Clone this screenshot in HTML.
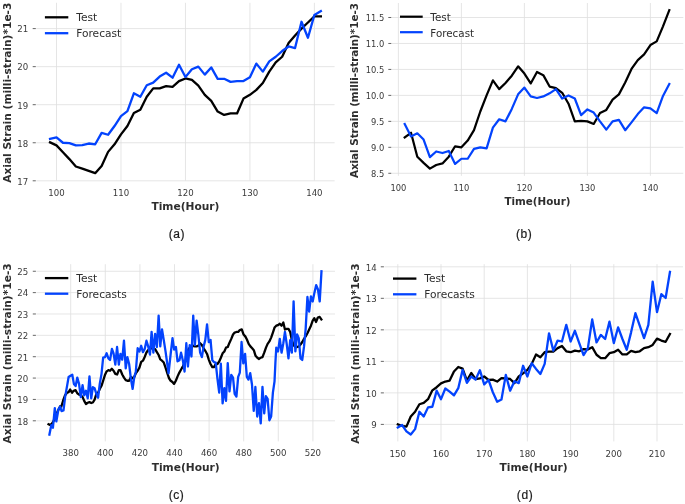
<!DOCTYPE html>
<html lang="en">
<head>
<meta charset="utf-8">
<title>Test vs Forecast axial strain</title>
<style>
html,body{margin:0;padding:0;background:#fff;}
body{width:685px;height:504px;overflow:hidden;}
svg{display:block;}
.tk{font-family:"DejaVu Sans","Liberation Sans",sans-serif;font-size:8.6px;fill:#3a3a3a;}
.lg{font-family:"DejaVu Sans","Liberation Sans",sans-serif;font-size:10.65px;fill:#2e2e2e;}
.lb{font-family:"DejaVu Sans","Liberation Sans",sans-serif;font-size:10.65px;font-weight:bold;fill:#2e2e2e;}
.cp{font-family:"Liberation Sans",sans-serif;font-size:12px;letter-spacing:0.6px;fill:#1a1a1a;stroke:#1a1a1a;stroke-width:0.2px;}
</style>
</head>
<body>
<svg width="685" height="504" viewBox="0 0 685 504">
<rect width="685" height="504" fill="#ffffff"/>
<line x1="56.50" y1="2.8" x2="56.50" y2="180.6" stroke="#dedede" stroke-width="0.8"/>
<line x1="120.97" y1="2.8" x2="120.97" y2="180.6" stroke="#dedede" stroke-width="0.8"/>
<line x1="185.45" y1="2.8" x2="185.45" y2="180.6" stroke="#dedede" stroke-width="0.8"/>
<line x1="249.92" y1="2.8" x2="249.92" y2="180.6" stroke="#dedede" stroke-width="0.8"/>
<line x1="314.40" y1="2.8" x2="314.40" y2="180.6" stroke="#dedede" stroke-width="0.8"/>
<line x1="36.3" y1="180.80" x2="334.6" y2="180.80" stroke="#dedede" stroke-width="0.8"/>
<line x1="36.3" y1="142.75" x2="334.6" y2="142.75" stroke="#dedede" stroke-width="0.8"/>
<line x1="36.3" y1="104.70" x2="334.6" y2="104.70" stroke="#dedede" stroke-width="0.8"/>
<line x1="36.3" y1="66.65" x2="334.6" y2="66.65" stroke="#dedede" stroke-width="0.8"/>
<line x1="36.3" y1="28.60" x2="334.6" y2="28.60" stroke="#dedede" stroke-width="0.8"/>
<line x1="32.70" y1="180.80" x2="35.80" y2="180.80" stroke="#555555" stroke-width="0.9"/>
<text x="28.2" y="184.60" text-anchor="end" class="tk">17</text>
<line x1="32.70" y1="142.75" x2="35.80" y2="142.75" stroke="#555555" stroke-width="0.9"/>
<text x="28.2" y="146.55" text-anchor="end" class="tk">18</text>
<line x1="32.70" y1="104.70" x2="35.80" y2="104.70" stroke="#555555" stroke-width="0.9"/>
<text x="28.2" y="108.50" text-anchor="end" class="tk">19</text>
<line x1="32.70" y1="66.65" x2="35.80" y2="66.65" stroke="#555555" stroke-width="0.9"/>
<text x="28.2" y="70.45" text-anchor="end" class="tk">20</text>
<line x1="32.70" y1="28.60" x2="35.80" y2="28.60" stroke="#555555" stroke-width="0.9"/>
<text x="28.2" y="32.40" text-anchor="end" class="tk">21</text>
<text x="56.50" y="195.8" text-anchor="middle" class="tk">100</text>
<text x="120.97" y="195.8" text-anchor="middle" class="tk">110</text>
<text x="185.45" y="195.8" text-anchor="middle" class="tk">120</text>
<text x="249.92" y="195.8" text-anchor="middle" class="tk">130</text>
<text x="314.40" y="195.8" text-anchor="middle" class="tk">140</text>
<path d="M50.05,142.37 L56.50,145.41 L62.95,152.26 L69.39,159.11 L75.84,166.53 L82.29,168.62 L88.74,170.91 L95.19,173.19 L101.63,165.96 L108.08,151.88 L114.53,144.27 L120.97,134.38 L127.42,126.01 L133.87,113.07 L140.32,109.65 L146.76,96.71 L153.21,88.34 L159.66,88.34 L166.11,86.06 L172.56,86.82 L179.00,81.11 L185.45,78.45 L191.90,79.97 L198.34,85.67 L204.79,94.81 L211.24,100.89 L217.69,111.55 L224.13,114.97 L230.58,113.45 L237.03,113.45 L243.48,98.61 L249.92,94.81 L256.37,89.86 L262.82,83.01 L269.27,71.60 L275.72,62.46 L282.16,56.76 L288.61,43.06 L295.06,35.45 L301.50,28.60 L307.95,22.51 L314.40,16.42 L320.85,16.42" fill="none" stroke="#000" stroke-width="2.30" stroke-linejoin="round" stroke-linecap="square"/>
<path d="M50.05,138.94 L56.50,137.42 L62.95,142.75 L69.39,143.13 L75.84,145.41 L82.29,145.03 L88.74,143.51 L95.19,144.27 L101.63,132.86 L108.08,134.76 L114.53,126.01 L120.97,116.12 L127.42,111.17 L133.87,93.28 L140.32,96.71 L146.76,85.29 L153.21,82.63 L159.66,76.54 L166.11,72.74 L172.56,77.68 L179.00,64.75 L185.45,76.92 L191.90,69.31 L198.34,66.65 L204.79,74.64 L211.24,67.41 L217.69,78.83 L224.13,78.83 L230.58,81.87 L237.03,81.11 L243.48,81.11 L249.92,77.30 L256.37,63.61 L262.82,71.60 L269.27,61.32 L275.72,56.76 L282.16,51.05 L288.61,46.48 L295.06,48.01 L301.50,21.75 L307.95,37.73 L314.40,14.90 L320.85,11.10" fill="none" stroke="#0343fd" stroke-width="2.30" stroke-linejoin="round" stroke-linecap="square"/>
<line x1="44.9" y1="17.3" x2="68.30" y2="17.3" stroke="#000" stroke-width="2.30"/>
<line x1="44.9" y1="33.20" x2="68.30" y2="33.20" stroke="#0343fd" stroke-width="2.30"/>
<text x="76.20" y="21.10" class="lg">Test</text>
<text x="76.20" y="37.00" class="lg">Forecast</text>
<text transform="translate(10.75,92.7) rotate(-90)" text-anchor="middle" class="lb">Axial Strain (milli-strain)*1e-3</text>
<text x="185.45" y="209.6" text-anchor="middle" class="lb">Time(Hour)</text>
<text x="176.9" y="237.8" text-anchor="middle" class="cp">(a)</text>
<line x1="398.40" y1="3.0" x2="398.40" y2="175.8" stroke="#dedede" stroke-width="0.8"/>
<line x1="461.40" y1="3.0" x2="461.40" y2="175.8" stroke="#dedede" stroke-width="0.8"/>
<line x1="524.40" y1="3.0" x2="524.40" y2="175.8" stroke="#dedede" stroke-width="0.8"/>
<line x1="587.40" y1="3.0" x2="587.40" y2="175.8" stroke="#dedede" stroke-width="0.8"/>
<line x1="650.40" y1="3.0" x2="650.40" y2="175.8" stroke="#dedede" stroke-width="0.8"/>
<line x1="391.8" y1="173.29" x2="683.3" y2="173.29" stroke="#dedede" stroke-width="0.8"/>
<line x1="391.8" y1="147.32" x2="683.3" y2="147.32" stroke="#dedede" stroke-width="0.8"/>
<line x1="391.8" y1="121.36" x2="683.3" y2="121.36" stroke="#dedede" stroke-width="0.8"/>
<line x1="391.8" y1="95.39" x2="683.3" y2="95.39" stroke="#dedede" stroke-width="0.8"/>
<line x1="391.8" y1="69.43" x2="683.3" y2="69.43" stroke="#dedede" stroke-width="0.8"/>
<line x1="391.8" y1="43.47" x2="683.3" y2="43.47" stroke="#dedede" stroke-width="0.8"/>
<line x1="391.8" y1="17.50" x2="683.3" y2="17.50" stroke="#dedede" stroke-width="0.8"/>
<line x1="388.31" y1="173.29" x2="391.30" y2="173.29" stroke="#555555" stroke-width="0.9"/>
<text x="384.2" y="176.98" text-anchor="end" class="tk" style="font-size:8.34px">8.5</text>
<line x1="388.31" y1="147.32" x2="391.30" y2="147.32" stroke="#555555" stroke-width="0.9"/>
<text x="384.2" y="151.01" text-anchor="end" class="tk" style="font-size:8.34px">9.0</text>
<line x1="388.31" y1="121.36" x2="391.30" y2="121.36" stroke="#555555" stroke-width="0.9"/>
<text x="384.2" y="125.05" text-anchor="end" class="tk" style="font-size:8.34px">9.5</text>
<line x1="388.31" y1="95.39" x2="391.30" y2="95.39" stroke="#555555" stroke-width="0.9"/>
<text x="384.2" y="99.08" text-anchor="end" class="tk" style="font-size:8.34px">10.0</text>
<line x1="388.31" y1="69.43" x2="391.30" y2="69.43" stroke="#555555" stroke-width="0.9"/>
<text x="384.2" y="73.12" text-anchor="end" class="tk" style="font-size:8.34px">10.5</text>
<line x1="388.31" y1="43.47" x2="391.30" y2="43.47" stroke="#555555" stroke-width="0.9"/>
<text x="384.2" y="47.15" text-anchor="end" class="tk" style="font-size:8.34px">11.0</text>
<line x1="388.31" y1="17.50" x2="391.30" y2="17.50" stroke="#555555" stroke-width="0.9"/>
<text x="384.2" y="21.19" text-anchor="end" class="tk" style="font-size:8.34px">11.5</text>
<text x="398.40" y="190.8" text-anchor="middle" class="tk" style="font-size:8.34px">100</text>
<text x="461.40" y="190.8" text-anchor="middle" class="tk" style="font-size:8.34px">110</text>
<text x="524.40" y="190.8" text-anchor="middle" class="tk" style="font-size:8.34px">120</text>
<text x="587.40" y="190.8" text-anchor="middle" class="tk" style="font-size:8.34px">130</text>
<text x="650.40" y="190.8" text-anchor="middle" class="tk" style="font-size:8.34px">140</text>
<path d="M404.70,137.46 L411.00,132.78 L417.30,156.67 L423.60,162.90 L429.90,168.62 L436.20,164.98 L442.50,163.42 L448.80,156.67 L455.10,146.29 L461.40,147.32 L467.70,140.57 L474.00,130.19 L480.30,111.49 L486.60,95.39 L492.90,80.34 L499.20,89.16 L505.50,82.93 L511.80,75.66 L518.10,66.31 L524.40,73.58 L530.70,83.45 L537.00,72.03 L543.30,75.14 L549.60,86.57 L555.90,88.12 L562.20,92.80 L568.50,103.70 L574.80,121.36 L581.10,120.84 L587.40,121.36 L593.70,123.96 L600.00,113.05 L606.30,109.94 L612.60,99.55 L618.90,94.36 L625.20,82.41 L631.50,68.91 L637.80,60.08 L644.10,54.37 L650.40,45.02 L656.70,41.39 L663.00,26.33 L669.30,10.23" fill="none" stroke="#000" stroke-width="2.23" stroke-linejoin="round" stroke-linecap="square"/>
<path d="M404.70,123.96 L411.00,136.42 L417.30,133.30 L423.60,139.54 L429.90,157.19 L436.20,151.48 L442.50,153.04 L448.80,150.96 L455.10,163.94 L461.40,158.75 L467.70,158.75 L474.00,148.88 L480.30,147.32 L486.60,148.36 L492.90,127.59 L499.20,119.28 L505.50,121.36 L511.80,108.90 L518.10,94.36 L524.40,87.61 L530.70,96.43 L537.00,97.99 L543.30,96.43 L549.60,93.32 L555.90,89.16 L562.20,98.51 L568.50,95.39 L574.80,98.51 L581.10,115.13 L587.40,109.42 L593.70,112.53 L600.00,121.36 L606.30,129.67 L612.60,121.36 L618.90,119.80 L625.20,130.19 L631.50,122.40 L637.80,114.09 L644.10,107.34 L650.40,108.38 L656.70,113.05 L663.00,95.91 L669.30,83.97" fill="none" stroke="#0343fd" stroke-width="2.23" stroke-linejoin="round" stroke-linecap="square"/>
<line x1="400.0" y1="16.7" x2="422.70" y2="16.7" stroke="#000" stroke-width="2.23"/>
<line x1="400.0" y1="32.20" x2="422.70" y2="32.20" stroke="#0343fd" stroke-width="2.23"/>
<text x="430.36" y="21.10" class="lg" style="font-size:10.33px">Test</text>
<text x="430.36" y="36.60" class="lg" style="font-size:10.33px">Forecast</text>
<text transform="translate(358.4,90.6) rotate(-90)" text-anchor="middle" class="lb" style="font-size:10.33px">Axial Strain (milli-strain)*1e-3</text>
<text x="537.5" y="204.6" text-anchor="middle" class="lb" style="font-size:10.33px">Time(Hour)</text>
<text x="524.15" y="237.8" text-anchor="middle" class="cp">(b)</text>
<line x1="70.70" y1="264.2" x2="70.70" y2="441.4" stroke="#dedede" stroke-width="0.8"/>
<line x1="105.30" y1="264.2" x2="105.30" y2="441.4" stroke="#dedede" stroke-width="0.8"/>
<line x1="139.90" y1="264.2" x2="139.90" y2="441.4" stroke="#dedede" stroke-width="0.8"/>
<line x1="174.50" y1="264.2" x2="174.50" y2="441.4" stroke="#dedede" stroke-width="0.8"/>
<line x1="209.10" y1="264.2" x2="209.10" y2="441.4" stroke="#dedede" stroke-width="0.8"/>
<line x1="243.70" y1="264.2" x2="243.70" y2="441.4" stroke="#dedede" stroke-width="0.8"/>
<line x1="278.30" y1="264.2" x2="278.30" y2="441.4" stroke="#dedede" stroke-width="0.8"/>
<line x1="312.90" y1="264.2" x2="312.90" y2="441.4" stroke="#dedede" stroke-width="0.8"/>
<line x1="36.4" y1="420.80" x2="335.0" y2="420.80" stroke="#dedede" stroke-width="0.8"/>
<line x1="36.4" y1="399.43" x2="335.0" y2="399.43" stroke="#dedede" stroke-width="0.8"/>
<line x1="36.4" y1="378.07" x2="335.0" y2="378.07" stroke="#dedede" stroke-width="0.8"/>
<line x1="36.4" y1="356.71" x2="335.0" y2="356.71" stroke="#dedede" stroke-width="0.8"/>
<line x1="36.4" y1="335.34" x2="335.0" y2="335.34" stroke="#dedede" stroke-width="0.8"/>
<line x1="36.4" y1="313.98" x2="335.0" y2="313.98" stroke="#dedede" stroke-width="0.8"/>
<line x1="36.4" y1="292.61" x2="335.0" y2="292.61" stroke="#dedede" stroke-width="0.8"/>
<line x1="36.4" y1="271.25" x2="335.0" y2="271.25" stroke="#dedede" stroke-width="0.8"/>
<line x1="32.80" y1="420.80" x2="35.90" y2="420.80" stroke="#555555" stroke-width="0.9"/>
<text x="28.2" y="424.60" text-anchor="end" class="tk">18</text>
<line x1="32.80" y1="399.43" x2="35.90" y2="399.43" stroke="#555555" stroke-width="0.9"/>
<text x="28.2" y="403.23" text-anchor="end" class="tk">19</text>
<line x1="32.80" y1="378.07" x2="35.90" y2="378.07" stroke="#555555" stroke-width="0.9"/>
<text x="28.2" y="381.87" text-anchor="end" class="tk">20</text>
<line x1="32.80" y1="356.71" x2="35.90" y2="356.71" stroke="#555555" stroke-width="0.9"/>
<text x="28.2" y="360.51" text-anchor="end" class="tk">21</text>
<line x1="32.80" y1="335.34" x2="35.90" y2="335.34" stroke="#555555" stroke-width="0.9"/>
<text x="28.2" y="339.14" text-anchor="end" class="tk">22</text>
<line x1="32.80" y1="313.98" x2="35.90" y2="313.98" stroke="#555555" stroke-width="0.9"/>
<text x="28.2" y="317.78" text-anchor="end" class="tk">23</text>
<line x1="32.80" y1="292.61" x2="35.90" y2="292.61" stroke="#555555" stroke-width="0.9"/>
<text x="28.2" y="296.41" text-anchor="end" class="tk">24</text>
<line x1="32.80" y1="271.25" x2="35.90" y2="271.25" stroke="#555555" stroke-width="0.9"/>
<text x="28.2" y="275.05" text-anchor="end" class="tk">25</text>
<text x="70.70" y="456.3" text-anchor="middle" class="tk">380</text>
<text x="105.30" y="456.3" text-anchor="middle" class="tk">400</text>
<text x="139.90" y="456.3" text-anchor="middle" class="tk">420</text>
<text x="174.50" y="456.3" text-anchor="middle" class="tk">440</text>
<text x="209.10" y="456.3" text-anchor="middle" class="tk">460</text>
<text x="243.70" y="456.3" text-anchor="middle" class="tk">480</text>
<text x="278.30" y="456.3" text-anchor="middle" class="tk">500</text>
<text x="312.90" y="456.3" text-anchor="middle" class="tk">520</text>
<path d="M48.54,424.17 L50.04,424.92 L51.68,423.92 L53.43,421.41 L55.07,417.02 L56.82,413.25 L58.58,409.48 L60.34,406.09 L61.34,406.50 L63.23,400.22 L65.11,395.20 L66.99,392.69 L68.63,392.06 L70.13,389.55 L72.02,392.69 L73.65,390.80 L75.53,390.18 L77.29,393.31 L79.05,394.57 L80.80,395.20 L82.56,397.08 L84.19,400.85 L85.95,403.99 L87.71,402.73 L89.47,402.10 L91.22,402.98 L92.86,402.48 L94.61,399.59 L96.37,393.94 L98.13,392.69 L99.76,388.92 L101.52,385.78 L103.15,380.76 L104.91,375.11 L106.67,371.34 L108.42,370.09 L110.06,370.72 L111.81,368.83 L113.57,370.72 L115.33,373.85 L117.09,374.48 L118.84,370.09 L120.48,370.09 L122.23,374.48 L123.99,377.62 L125.75,380.13 L127.37,380.76 L129.13,380.76 L130.89,376.99 L132.64,378.25 L134.27,376.99 L135.78,373.23 L137.66,370.72 L139.42,367.58 L141.18,361.93 L142.94,360.67 L144.70,356.91 L146.45,352.51 L148.21,349.92 L149.97,348.92 L151.60,348.29 L153.36,348.92 L155.12,349.17 L156.87,352.06 L158.63,355.02 L160.26,359.42 L162.02,360.67 L163.78,362.55 L165.54,367.58 L167.29,373.23 L169.05,378.25 L170.68,380.76 L172.44,382.02 L174.07,383.90 L175.83,380.76 L177.59,376.37 L179.35,372.60 L181.10,369.46 L182.86,366.32 L185.75,360.67 L186.32,353.94 L187.95,350.18 L189.71,347.66 L191.47,347.04 L193.23,345.78 L194.86,346.41 L196.62,346.41 L198.37,345.78 L200.13,343.27 L201.89,345.15 L203.65,348.29 L205.28,350.80 L207.04,353.94 L208.79,359.59 L210.55,363.99 L212.31,367.12 L213.94,367.12 L215.70,363.99 L217.46,363.99 L219.22,361.48 L220.85,357.71 L222.61,353.31 L224.36,351.43 L225.99,347.66 L227.75,347.04 L229.51,342.64 L231.27,338.88 L233.03,334.48 L234.66,332.60 L236.42,331.97 L238.17,331.97 L239.81,330.09 L241.76,329.46 L243.52,334.48 L245.27,336.37 L246.91,339.50 L248.66,343.90 L250.42,346.41 L252.18,348.29 L253.81,350.18 L255.57,355.83 L257.33,357.71 L259.08,358.96 L260.72,357.71 L262.47,357.08 L264.23,352.69 L265.99,347.66 L267.62,343.90 L269.38,341.39 L271.14,337.62 L272.89,332.60 L274.53,327.58 L276.28,325.69 L278.04,325.07 L279.80,323.81 L281.56,325.69 L283.31,322.55 L284.95,329.46 L286.70,328.83 L288.46,328.83 L290.22,331.97 L291.85,340.13 L293.61,345.15 L295.37,347.04 L297.12,347.04 L298.76,346.41 L300.51,344.53 L302.27,342.02 L304.03,338.88 L305.66,336.37 L307.42,333.23 L309.18,329.46 L310.94,325.69 L312.69,320.67 L314.33,318.16 L316.08,321.93 L317.84,317.53 L319.60,316.91 L321.36,319.42" fill="none" stroke="#000" stroke-width="2.30" stroke-linejoin="round" stroke-linecap="square"/>
<path d="M49.42,434.59 L51.30,425.11 L52.93,427.75 L54.81,408.20 L56.32,421.44 L58.46,409.23 L60.09,406.56 L61.59,411.02 L63.48,410.49 L65.11,397.08 L66.99,386.41 L68.63,376.99 L70.51,375.74 L72.27,374.67 L73.90,383.90 L75.66,386.03 L77.29,377.59 L79.05,383.90 L80.80,397.11 L82.56,385.13 L84.19,395.23 L85.95,390.78 L87.71,398.36 L89.47,376.34 L91.22,398.36 L92.86,387.23 L94.61,388.29 L96.37,393.94 L98.13,397.74 L99.76,383.90 L101.52,373.85 L103.15,357.53 L105.02,357.08 L106.65,353.29 L108.41,358.34 L110.04,359.94 L111.93,348.89 L113.56,353.31 L115.32,364.64 L117.07,347.01 L118.83,364.64 L120.46,353.91 L122.22,359.62 L123.98,340.73 L125.74,368.41 L127.37,357.05 L129.13,363.99 L130.89,378.88 L132.64,388.95 L134.27,376.99 L135.78,371.97 L137.66,348.26 L139.42,351.46 L141.18,345.75 L142.94,352.12 L144.70,348.92 L146.45,340.73 L148.21,346.41 L149.97,354.60 L151.60,331.94 L153.36,352.71 L155.12,333.83 L156.87,347.06 L158.63,315.62 L160.26,346.44 L162.02,329.43 L163.78,340.13 L165.54,351.43 L167.29,363.99 L168.55,373.25 L170.68,353.94 L172.51,338.22 L174.14,349.61 L175.90,346.97 L177.53,361.29 L179.42,360.22 L181.05,352.66 L182.81,360.22 L184.56,371.55 L186.32,343.24 L187.95,366.52 L189.71,345.13 L191.47,356.48 L193.23,315.62 L194.86,345.18 L196.62,320.64 L198.37,335.11 L200.13,352.69 L201.89,357.11 L203.65,346.41 L205.28,340.13 L207.04,324.41 L208.79,342.17 L210.55,339.97 L212.31,360.22 L213.94,362.10 L215.70,362.51 L217.46,378.83 L219.22,392.67 L220.85,363.74 L222.61,403.34 L224.36,388.22 L225.99,400.83 L227.75,363.11 L229.51,391.42 L231.27,374.91 L233.03,377.58 L234.66,393.90 L236.42,396.57 L238.17,376.95 L239.81,372.55 L241.56,341.99 L243.32,363.39 L245.08,353.91 L246.84,376.95 L248.47,379.62 L250.23,373.15 L251.98,384.48 L253.74,410.88 L255.37,386.97 L257.20,416.48 L258.96,403.24 L260.72,423.39 L262.47,386.92 L264.23,413.34 L265.86,396.21 L267.62,398.88 L269.38,420.25 L271.14,416.45 L272.89,392.60 L274.53,381.30 L275.40,362.73 L276.28,347.64 L278.04,351.46 L279.80,338.85 L281.56,352.71 L283.31,343.27 L284.95,331.94 L286.70,343.90 L288.46,358.36 L290.22,340.10 L291.85,352.71 L293.60,301.40 L295.37,351.46 L297.12,334.45 L298.76,338.25 L300.51,358.34 L302.27,359.94 L304.03,346.41 L305.66,328.83 L307.41,297.01 L309.17,311.50 L310.93,296.38 L312.69,301.46 L314.44,292.64 L316.20,285.08 L317.96,289.50 L319.72,301.46 L321.48,271.30" fill="none" stroke="#0343fd" stroke-width="2.30" stroke-linejoin="round" stroke-linecap="square"/>
<line x1="44.9" y1="278.1" x2="68.30" y2="278.1" stroke="#000" stroke-width="2.30"/>
<line x1="44.9" y1="293.70" x2="68.30" y2="293.70" stroke="#0343fd" stroke-width="2.30"/>
<text x="76.20" y="281.90" class="lg">Test</text>
<text x="76.20" y="297.50" class="lg">Forecasts</text>
<text transform="translate(10.9,353.4) rotate(-90)" text-anchor="middle" class="lb">Axial Strain (milli-strain)*1e-3</text>
<text x="185.7" y="470.6" text-anchor="middle" class="lb">Time(Hour)</text>
<text x="176.55" y="499.0" text-anchor="middle" class="cp">(c)</text>
<line x1="397.80" y1="264.2" x2="397.80" y2="441.4" stroke="#dedede" stroke-width="0.8"/>
<line x1="441.00" y1="264.2" x2="441.00" y2="441.4" stroke="#dedede" stroke-width="0.8"/>
<line x1="484.20" y1="264.2" x2="484.20" y2="441.4" stroke="#dedede" stroke-width="0.8"/>
<line x1="527.40" y1="264.2" x2="527.40" y2="441.4" stroke="#dedede" stroke-width="0.8"/>
<line x1="570.60" y1="264.2" x2="570.60" y2="441.4" stroke="#dedede" stroke-width="0.8"/>
<line x1="613.80" y1="264.2" x2="613.80" y2="441.4" stroke="#dedede" stroke-width="0.8"/>
<line x1="657.00" y1="264.2" x2="657.00" y2="441.4" stroke="#dedede" stroke-width="0.8"/>
<line x1="384.4" y1="424.40" x2="683.0" y2="424.40" stroke="#dedede" stroke-width="0.8"/>
<line x1="384.4" y1="392.88" x2="683.0" y2="392.88" stroke="#dedede" stroke-width="0.8"/>
<line x1="384.4" y1="361.36" x2="683.0" y2="361.36" stroke="#dedede" stroke-width="0.8"/>
<line x1="384.4" y1="329.84" x2="683.0" y2="329.84" stroke="#dedede" stroke-width="0.8"/>
<line x1="384.4" y1="298.32" x2="683.0" y2="298.32" stroke="#dedede" stroke-width="0.8"/>
<line x1="384.4" y1="266.80" x2="683.0" y2="266.80" stroke="#dedede" stroke-width="0.8"/>
<line x1="380.80" y1="424.40" x2="383.90" y2="424.40" stroke="#555555" stroke-width="0.9"/>
<text x="376.8" y="428.20" text-anchor="end" class="tk">9</text>
<line x1="380.80" y1="392.88" x2="383.90" y2="392.88" stroke="#555555" stroke-width="0.9"/>
<text x="376.8" y="396.68" text-anchor="end" class="tk">10</text>
<line x1="380.80" y1="361.36" x2="383.90" y2="361.36" stroke="#555555" stroke-width="0.9"/>
<text x="376.8" y="365.16" text-anchor="end" class="tk">11</text>
<line x1="380.80" y1="329.84" x2="383.90" y2="329.84" stroke="#555555" stroke-width="0.9"/>
<text x="376.8" y="333.64" text-anchor="end" class="tk">12</text>
<line x1="380.80" y1="298.32" x2="383.90" y2="298.32" stroke="#555555" stroke-width="0.9"/>
<text x="376.8" y="302.12" text-anchor="end" class="tk">13</text>
<line x1="380.80" y1="266.80" x2="383.90" y2="266.80" stroke="#555555" stroke-width="0.9"/>
<text x="376.8" y="270.60" text-anchor="end" class="tk">14</text>
<text x="397.80" y="456.6" text-anchor="middle" class="tk">150</text>
<text x="441.00" y="456.6" text-anchor="middle" class="tk">160</text>
<text x="484.20" y="456.6" text-anchor="middle" class="tk">170</text>
<text x="527.40" y="456.6" text-anchor="middle" class="tk">180</text>
<text x="570.60" y="456.6" text-anchor="middle" class="tk">190</text>
<text x="613.80" y="456.6" text-anchor="middle" class="tk">200</text>
<text x="657.00" y="456.6" text-anchor="middle" class="tk">210</text>
<path d="M397.80,424.40 L402.12,425.98 L406.44,426.61 L410.76,416.52 L415.08,411.79 L419.40,404.23 L423.72,402.97 L428.04,399.18 L432.36,390.36 L436.68,387.21 L441.00,383.42 L445.32,381.53 L449.64,380.59 L453.96,371.45 L458.28,367.03 L462.60,368.61 L466.92,380.59 L471.24,373.02 L475.56,379.01 L479.88,378.38 L484.20,376.49 L488.52,379.96 L492.84,379.64 L497.16,381.53 L501.48,378.07 L505.80,378.38 L510.12,379.01 L514.44,383.11 L518.76,376.49 L523.08,373.34 L527.40,369.87 L531.72,363.88 L536.04,354.43 L540.36,357.26 L544.68,352.22 L549.00,351.59 L553.32,351.59 L557.64,348.12 L561.96,345.92 L566.28,351.27 L570.60,352.22 L574.92,350.64 L579.24,351.27 L583.56,349.07 L587.88,349.38 L592.20,347.18 L596.52,354.74 L600.84,358.21 L605.16,358.21 L609.48,353.16 L613.80,352.22 L618.12,349.70 L622.44,354.43 L626.76,354.43 L631.08,350.96 L635.40,352.22 L639.72,351.27 L644.04,348.12 L648.36,347.18 L652.68,344.97 L657.00,338.67 L661.32,340.56 L665.64,341.82 L669.96,333.94" fill="none" stroke="#000" stroke-width="2.30" stroke-linejoin="round" stroke-linecap="square"/>
<path d="M397.80,427.55 L402.12,425.03 L406.44,431.33 L410.76,434.49 L415.08,429.13 L419.40,411.79 L423.72,416.52 L428.04,407.38 L432.36,406.75 L436.68,390.67 L441.00,399.18 L445.32,388.47 L449.64,391.62 L453.96,395.40 L458.28,388.15 L462.60,369.87 L466.92,382.79 L471.24,376.49 L475.56,379.64 L479.88,370.19 L484.20,384.37 L488.52,379.96 L492.84,392.25 L497.16,401.71 L501.48,399.50 L505.80,374.91 L510.12,390.67 L514.44,381.22 L518.76,383.11 L523.08,365.77 L527.40,376.49 L531.72,363.25 L536.04,368.92 L540.36,373.97 L544.68,363.88 L549.00,333.31 L553.32,350.64 L557.64,340.56 L561.96,341.50 L566.28,324.80 L570.60,341.50 L574.92,330.79 L579.24,343.08 L583.56,355.06 L587.88,348.12 L592.20,319.44 L596.52,342.45 L600.84,334.88 L605.16,338.98 L609.48,321.64 L613.80,343.08 L618.12,327.32 L622.44,338.98 L626.76,349.70 L631.08,332.36 L635.40,313.13 L639.72,325.74 L644.04,338.04 L648.36,324.80 L652.68,281.61 L657.00,312.19 L661.32,294.22 L665.64,298.00 L669.96,271.84" fill="none" stroke="#0343fd" stroke-width="2.30" stroke-linejoin="round" stroke-linecap="square"/>
<line x1="393.0" y1="278.6" x2="416.40" y2="278.6" stroke="#000" stroke-width="2.30"/>
<line x1="393.0" y1="294.30" x2="416.40" y2="294.30" stroke="#0343fd" stroke-width="2.30"/>
<text x="424.30" y="282.40" class="lg">Test</text>
<text x="424.30" y="298.10" class="lg">Forecasts</text>
<text transform="translate(359.0,353.5) rotate(-90)" text-anchor="middle" class="lb">Axial Strain (milli-strain)*1e-3</text>
<text x="533.6" y="470.8" text-anchor="middle" class="lb">Time(Hour)</text>
<text x="525.05" y="499.0" text-anchor="middle" class="cp">(d)</text>
</svg>
</body>
</html>
